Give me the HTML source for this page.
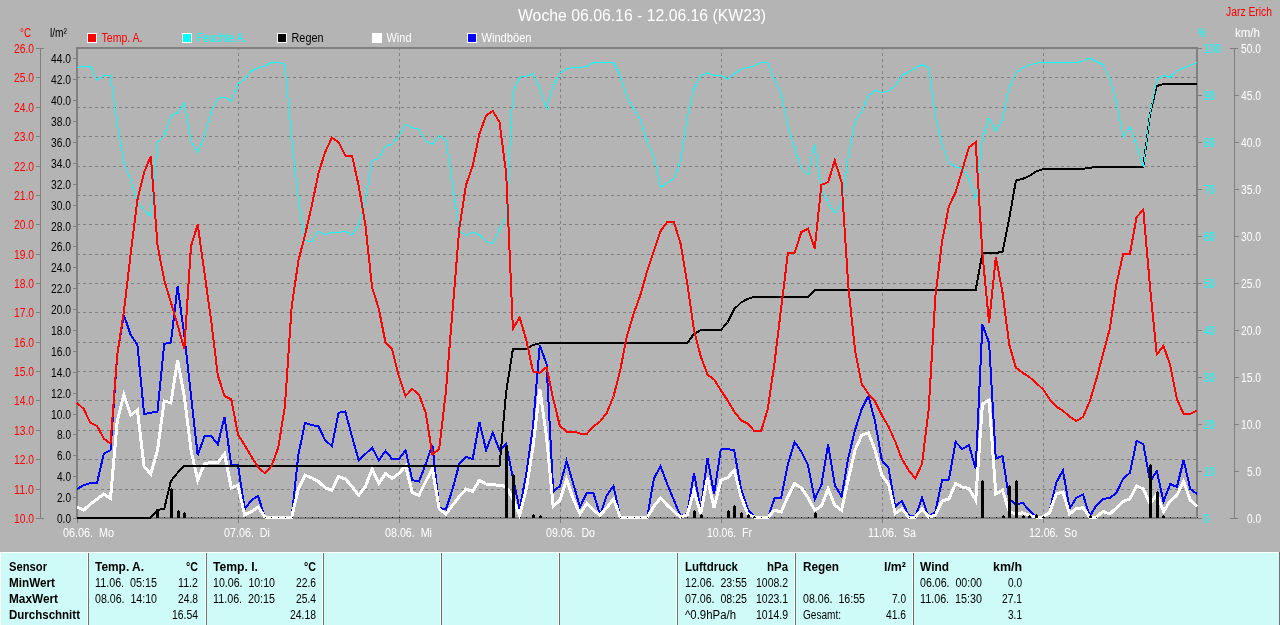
<!DOCTYPE html>
<html lang="de"><head><meta charset="utf-8"><title>Woche 06.06.16 - 12.06.16 (KW23)</title>
<style>html,body{margin:0;padding:0;background:#b4b4b4;overflow:hidden}svg{display:block;will-change:transform}text{font-family:"Liberation Sans",sans-serif;font-size:12px;white-space:pre}.b{font-weight:bold}.r{fill:#ff0000}.c{fill:#00ffff}.w{fill:#ffffff}.k{fill:#000000}.e{text-anchor:end}</style></head><body>
<svg width="1280" height="625" viewBox="0 0 1280 625">
<rect x="0" y="0" width="1280" height="625" fill="#b4b4b4"/>
<g shape-rendering="crispEdges" fill="none">
<path d="M77 77.5H1196M77 107.5H1196M77 136.5H1196M77 166.5H1196M77 195.5H1196M77 224.5H1196M77 254.5H1196M77 283.5H1196M77 312.5H1196M77 342.5H1196M77 371.5H1196M77 400.5H1196M77 430.5H1196M77 459.5H1196M77 489.5H1196M238.5 47V517M399.5 47V517M560.5 47V517M721.5 47V517M882.5 47V517M1043.5 47V517" stroke="#808080" stroke-width="1" stroke-dasharray="3 3"/>
<path d="M76 48H1198M77 47V519M1197 47V519M76 518H1198" stroke="#808080" stroke-width="2"/>
<path d="M40.5 48V519M36 48.5H44M36 77.5H40M36 107.5H40M36 136.5H40M36 166.5H40M36 195.5H40M36 224.5H40M36 254.5H40M36 283.5H40M36 312.5H40M36 342.5H40M36 371.5H40M36 400.5H40M36 430.5H40M36 459.5H40M36 489.5H40M36 518.5H44M73 518.5H76M73 497.5H76M73 476.5H76M73 455.5H76M73 434.5H76M73 414.5H76M73 393.5H76M73 372.5H76M73 351.5H76M73 330.5H76M73 309.5H76M73 288.5H76M73 267.5H76M73 246.5H76M73 226.5H76M73 205.5H76M73 184.5H76M73 163.5H76M73 142.5H76M73 121.5H76M73 100.5H76M73 79.5H76M73 58.5H76M1198 518.5H1202M1198 471.5H1202M1198 424.5H1202M1198 377.5H1202M1198 330.5H1202M1198 283.5H1202M1198 236.5H1202M1198 189.5H1202M1198 142.5H1202M1198 95.5H1202M1198 48.5H1202M1234.5 48V519M1230 518.5H1238M1234 471.5H1239M1234 424.5H1239M1234 377.5H1239M1234 330.5H1239M1234 283.5H1239M1234 236.5H1239M1234 189.5H1239M1234 142.5H1239M1234 95.5H1239M1230 48.5H1238M77.5 519V523M238.5 519V523M399.5 519V523M560.5 519V523M721.5 519V523M882.5 519V523M1043.5 519V523" stroke="#808080" stroke-width="1"/>
</g>
<g shape-rendering="crispEdges">
<polyline points="77.0,489.0 83.7,485.2 90.4,483.0 97.1,482.8 103.8,453.5 110.5,450.2 117.2,355.0 123.9,315.0 130.7,335.0 137.4,344.5 144.1,414.0 150.8,412.8 157.5,411.5 164.2,343.8 170.9,342.5 177.6,286.2 184.3,335.0 191.0,395.2 197.7,455.2 204.4,436.5 211.1,436.0 217.8,444.5 224.5,417.0 231.3,465.2 238.0,465.2 244.7,509.0 251.4,500.2 258.1,496.0 264.8,517.0 271.5,518.0 278.2,518.0 284.9,518.0 291.6,518.0 298.3,455.2 305.0,422.8 311.7,425.2 318.4,426.0 325.1,440.2 331.9,446.0 338.6,412.8 345.3,411.5 352.0,436.5 358.7,460.2 365.4,454.0 372.1,447.8 378.8,460.2 385.5,451.0 392.2,459.0 398.9,459.0 405.6,450.2 412.3,480.2 419.0,481.5 425.7,464.0 432.4,445.2 439.2,507.8 445.9,509.5 452.6,489.0 459.3,464.0 466.0,457.0 472.7,459.0 479.4,422.0 486.1,450.2 492.8,432.8 499.5,450.2 506.2,444.0 512.9,477.8 519.6,509.0 526.3,474.0 533.0,426.5 539.8,345.0 546.5,364.0 553.2,491.5 559.9,486.0 566.6,461.0 573.3,484.0 580.0,507.0 586.7,492.8 593.4,492.8 600.1,515.2 606.8,495.2 613.5,486.0 620.2,517.0 626.9,518.0 633.6,518.0 640.4,518.0 647.1,518.0 653.8,479.0 660.5,466.0 667.2,484.0 673.9,500.2 680.6,516.0 687.3,514.0 694.0,472.8 700.7,510.2 707.4,457.8 714.1,494.0 720.8,449.5 727.5,449.0 734.2,450.2 741.0,489.0 747.7,509.0 754.4,517.0 761.1,518.0 767.8,518.0 774.5,498.5 781.2,497.8 787.9,464.0 794.6,442.0 801.3,451.5 808.0,465.2 814.7,499.0 821.4,485.2 828.1,444.0 834.8,485.2 841.6,496.5 848.3,457.8 855.0,430.2 861.7,409.0 868.4,396.0 875.1,421.5 881.8,460.2 888.5,467.8 895.2,506.5 901.9,501.0 908.6,515.2 915.3,517.0 922.0,497.8 928.7,517.0 935.4,511.5 942.1,480.2 948.9,479.5 955.6,442.0 962.3,449.0 969.0,445.2 975.7,469.0 982.4,324.5 989.1,343.0 995.8,458.5 1002.5,456.0 1009.2,499.0 1015.9,504.5 1022.6,502.8 1029.3,510.2 1036.0,517.0 1042.7,517.0 1049.5,511.5 1056.2,482.8 1062.9,470.2 1069.6,508.5 1076.3,497.8 1083.0,494.5 1089.7,516.5 1096.4,505.2 1103.1,499.0 1109.8,497.8 1116.5,492.8 1123.2,478.5 1129.9,472.8 1136.6,441.0 1143.3,444.0 1150.1,481.5 1156.8,471.0 1163.5,501.5 1170.2,484.0 1176.9,487.0 1183.6,460.2 1190.3,489.0 1197.0,494.0" stroke="#0000ff" stroke-width="2" fill="none" stroke-linejoin="miter"/>
<polyline points="77.0,507.0 83.7,510.2 90.4,504.0 97.1,499.0 103.8,494.0 110.5,498.5 117.2,421.5 123.9,394.5 130.7,415.2 137.4,410.2 144.1,466.5 150.8,474.0 157.5,450.2 164.2,401.0 170.9,402.8 177.6,360.0 184.3,396.5 191.0,450.2 197.7,480.2 204.4,464.0 211.1,462.2 217.8,462.8 224.5,454.0 231.3,487.8 238.0,485.2 244.7,515.2 251.4,511.5 258.1,507.0 264.8,517.0 271.5,517.5 278.2,517.5 284.9,517.5 291.6,517.5 298.3,489.0 305.0,475.2 311.7,477.8 318.4,481.5 325.1,487.8 331.9,490.2 338.6,476.5 345.3,479.0 352.0,486.5 358.7,495.2 365.4,486.5 372.1,469.0 378.8,483.5 385.5,473.5 392.2,478.5 398.9,473.5 405.6,466.0 412.3,492.8 419.0,495.2 425.7,481.5 432.4,469.0 439.2,509.0 445.9,514.0 452.6,505.2 459.3,496.5 466.0,489.0 472.7,491.5 479.4,480.2 486.1,484.0 492.8,484.8 499.5,485.2 506.2,486.5 512.9,499.0 519.6,515.2 526.3,489.0 533.0,446.5 539.8,389.0 546.5,436.5 553.2,506.5 559.9,500.2 566.6,479.5 573.3,499.0 580.0,514.0 586.7,503.5 593.4,510.2 600.1,515.2 606.8,507.8 613.5,499.0 620.2,517.0 626.9,517.5 633.6,517.5 640.4,517.5 647.1,517.5 653.8,506.5 660.5,497.8 667.2,505.2 673.9,511.5 680.6,517.0 687.3,514.8 694.0,490.2 700.7,514.0 707.4,477.8 714.1,507.8 720.8,480.2 727.5,477.8 734.2,470.2 741.0,496.5 747.7,514.0 754.4,517.0 761.1,517.5 767.8,517.5 774.5,510.2 781.2,512.0 787.9,496.5 794.6,483.5 801.3,487.8 808.0,497.8 814.7,510.2 821.4,506.0 828.1,489.0 834.8,505.2 841.6,510.2 848.3,479.0 855.0,450.2 861.7,435.2 868.4,432.8 875.1,450.2 881.8,475.2 888.5,484.0 895.2,513.5 901.9,509.0 908.6,517.0 915.3,517.0 922.0,509.0 928.7,517.0 935.4,515.2 942.1,501.0 948.9,499.0 955.6,483.5 962.3,487.2 969.0,488.5 975.7,500.2 982.4,404.0 989.1,400.2 995.8,494.0 1002.5,490.2 1009.2,511.5 1015.9,514.0 1022.6,512.8 1029.3,515.2 1036.0,517.0 1042.7,517.0 1049.5,512.8 1056.2,494.0 1062.9,492.0 1069.6,514.0 1076.3,508.5 1083.0,507.8 1089.7,517.0 1096.4,517.0 1103.1,511.5 1109.8,514.0 1116.5,507.8 1123.2,501.5 1129.9,499.0 1136.6,486.0 1143.3,489.0 1150.1,504.0 1156.8,494.0 1163.5,511.5 1170.2,501.0 1176.9,495.2 1183.6,481.5 1190.3,500.2 1197.0,506.5" stroke="#ffffff" stroke-width="3" fill="none" stroke-linejoin="miter"/>
<path d="M157 517.5h1M164 517.5h1M171 517.5h1M178 517.5h1M184 517.5h1M191 517.5h1M198 517.5h1M204 517.5h1M211 517.5h1M218 517.5h1M225 517.5h1M231 517.5h1M238 517.5h1M245 517.5h1M251 517.5h1M258 517.5h1M265 517.5h1M271 517.5h1M278 517.5h1M285 517.5h1M292 517.5h1M298 517.5h1M305 517.5h1M312 517.5h1M318 517.5h1M325 517.5h1M332 517.5h1M339 517.5h1M345 517.5h1M352 517.5h1M359 517.5h1M365 517.5h1M372 517.5h1M379 517.5h1M386 517.5h1M392 517.5h1M399 517.5h1M406 517.5h1M412 517.5h1M419 517.5h1M426 517.5h1M432 517.5h1M439 517.5h1M446 517.5h1M453 517.5h1M459 517.5h1M466 517.5h1M473 517.5h1M479 517.5h1M486 517.5h1M493 517.5h1M500 517.5h1M506 517.5h1M513 517.5h1M520 517.5h1M526 517.5h1M533 517.5h1M540 517.5h1M546 517.5h1M553 517.5h1M560 517.5h1M567 517.5h1M573 517.5h1M580 517.5h1M587 517.5h1M593 517.5h1M600 517.5h1M607 517.5h1M614 517.5h1M620 517.5h1M627 517.5h1M634 517.5h1M640 517.5h1M647 517.5h1M654 517.5h1M660 517.5h1M667 517.5h1M674 517.5h1M681 517.5h1M687 517.5h1M694 517.5h1M701 517.5h1M707 517.5h1M714 517.5h1M721 517.5h1M728 517.5h1M734 517.5h1M741 517.5h1M748 517.5h1M754 517.5h1M761 517.5h1M768 517.5h1M774 517.5h1M781 517.5h1M788 517.5h1M795 517.5h1M801 517.5h1M808 517.5h1M815 517.5h1M821 517.5h1M828 517.5h1M835 517.5h1M842 517.5h1M848 517.5h1M855 517.5h1M862 517.5h1M868 517.5h1M875 517.5h1M882 517.5h1M888 517.5h1M895 517.5h1M902 517.5h1M909 517.5h1M915 517.5h1M922 517.5h1M929 517.5h1M935 517.5h1M942 517.5h1M949 517.5h1M956 517.5h1M962 517.5h1M969 517.5h1M976 517.5h1M982 517.5h1M989 517.5h1M996 517.5h1M1003 517.5h1M1009 517.5h1M1016 517.5h1M1023 517.5h1M1029 517.5h1M1036 517.5h1M1043 517.5h1M1049 517.5h1M1056 517.5h1M1063 517.5h1M1070 517.5h1M1076 517.5h1M1083 517.5h1M1090 517.5h1M1096 517.5h1M1103 517.5h1M1110 517.5h1M1117 517.5h1M1123 517.5h1M1130 517.5h1M1137 517.5h1M1143 517.5h1M1150 517.5h1M1157 517.5h1M1163 517.5h1M1170 517.5h1M1177 517.5h1M1184 517.5h1M1190 517.5h1M1197 517.5h1" stroke="#000000" stroke-width="1" fill="none"/>
<g fill="#000000"><rect x="156" y="511" width="3" height="7"/><rect x="157" y="510" width="1" height="1"/><rect x="170" y="489" width="3" height="29"/><rect x="171" y="488" width="1" height="1"/><rect x="177" y="511" width="3" height="7"/><rect x="178" y="510" width="1" height="1"/><rect x="183" y="513" width="3" height="5"/><rect x="184" y="512" width="1" height="1"/><rect x="505" y="446" width="3" height="72"/><rect x="506" y="445" width="1" height="1"/><rect x="512" y="475" width="3" height="43"/><rect x="513" y="474" width="1" height="1"/><rect x="532" y="515" width="3" height="3"/><rect x="533" y="514" width="1" height="1"/><rect x="539" y="516" width="3" height="2"/><rect x="540" y="515" width="1" height="1"/><rect x="693" y="511" width="3" height="7"/><rect x="694" y="510" width="1" height="1"/><rect x="700" y="515" width="3" height="3"/><rect x="701" y="514" width="1" height="1"/><rect x="727" y="511" width="3" height="7"/><rect x="728" y="510" width="1" height="1"/><rect x="733" y="506" width="3" height="12"/><rect x="734" y="505" width="1" height="1"/><rect x="740" y="513" width="3" height="5"/><rect x="741" y="512" width="1" height="1"/><rect x="747" y="515" width="3" height="3"/><rect x="748" y="514" width="1" height="1"/><rect x="753" y="517" width="3" height="1"/><rect x="754" y="516" width="1" height="1"/><rect x="814" y="513" width="3" height="5"/><rect x="815" y="512" width="1" height="1"/><rect x="981" y="481" width="3" height="37"/><rect x="982" y="480" width="1" height="1"/><rect x="1002" y="516" width="3" height="2"/><rect x="1003" y="515" width="1" height="1"/><rect x="1008" y="486" width="3" height="32"/><rect x="1009" y="485" width="1" height="1"/><rect x="1015" y="481" width="3" height="37"/><rect x="1016" y="480" width="1" height="1"/><rect x="1022" y="516" width="3" height="2"/><rect x="1023" y="515" width="1" height="1"/><rect x="1028" y="516" width="3" height="2"/><rect x="1029" y="515" width="1" height="1"/><rect x="1035" y="515" width="3" height="3"/><rect x="1036" y="514" width="1" height="1"/><rect x="1042" y="517" width="3" height="1"/><rect x="1043" y="516" width="1" height="1"/><rect x="1089" y="516" width="3" height="2"/><rect x="1090" y="515" width="1" height="1"/><rect x="1149" y="465" width="3" height="53"/><rect x="1150" y="464" width="1" height="1"/><rect x="1156" y="492" width="3" height="26"/><rect x="1157" y="491" width="1" height="1"/><rect x="1162" y="516" width="3" height="2"/><rect x="1163" y="515" width="1" height="1"/></g>
<polyline points="77.0,517.5 83.7,517.5 90.4,517.5 97.1,517.5 103.8,517.5 110.5,517.5 117.2,517.5 123.9,517.5 130.7,517.5 137.4,517.5 144.1,517.5 150.8,517.5 157.5,509.8 164.2,509.0 170.9,481.0 177.6,472.8 184.3,466.0 191.0,466.0 197.7,466.0 204.4,466.0 211.1,466.0 217.8,466.0 224.5,466.0 231.3,466.0 238.0,466.0 244.7,466.0 251.4,466.0 258.1,466.0 264.8,466.0 271.5,466.0 278.2,466.0 284.9,466.0 291.6,466.0 298.3,466.0 305.0,466.0 311.7,466.0 318.4,466.0 325.1,466.0 331.9,466.0 338.6,466.0 345.3,466.0 352.0,466.0 358.7,466.0 365.4,466.0 372.1,466.0 378.8,466.0 385.5,466.0 392.2,466.0 398.9,466.0 405.6,466.0 412.3,466.0 419.0,466.0 425.7,466.0 432.4,466.0 439.2,466.0 445.9,466.0 452.6,466.0 459.3,466.0 466.0,466.0 472.7,466.0 479.4,466.0 486.1,466.0 492.8,466.0 499.5,466.0 506.2,391.5 512.9,349.2 519.6,349.2 526.3,349.2 533.0,345.0 539.8,343.2 546.5,343.0 553.2,343.0 559.9,343.0 566.6,343.0 573.3,343.0 580.0,343.0 586.7,343.0 593.4,343.0 600.1,343.0 606.8,343.0 613.5,343.0 620.2,343.0 626.9,343.0 633.6,343.0 640.4,343.0 647.1,343.0 653.8,343.0 660.5,343.0 667.2,343.0 673.9,343.0 680.6,343.0 687.3,343.0 694.0,333.8 700.7,330.2 707.4,330.0 714.1,330.0 720.8,330.0 727.5,322.5 734.2,309.2 741.0,302.5 747.7,298.8 754.4,296.8 761.1,296.8 767.8,296.8 774.5,296.8 781.2,296.8 787.9,296.8 794.6,296.8 801.3,296.8 808.0,296.8 814.7,290.0 821.4,290.0 828.1,290.0 834.8,290.0 841.6,290.0 848.3,290.0 855.0,290.0 861.7,290.0 868.4,290.0 875.1,290.0 881.8,290.0 888.5,290.0 895.2,290.0 901.9,290.0 908.6,290.0 915.3,290.0 922.0,290.0 928.7,290.0 935.4,290.0 942.1,290.0 948.9,290.0 955.6,290.0 962.3,290.0 969.0,290.0 975.7,290.0 982.4,253.0 989.1,253.0 995.8,253.0 1002.5,251.8 1009.2,219.0 1015.9,180.5 1022.6,179.0 1029.3,176.0 1036.0,171.5 1042.7,169.2 1049.5,168.8 1056.2,168.8 1062.9,168.8 1069.6,168.8 1076.3,168.8 1083.0,168.8 1089.7,167.8 1096.4,167.0 1103.1,167.0 1109.8,167.0 1116.5,167.0 1123.2,167.0 1129.9,167.0 1136.6,167.0 1143.3,167.0 1150.1,113.5 1156.8,86.0 1163.5,84.0 1170.2,84.0 1176.9,84.0 1183.6,84.0 1190.3,84.0 1197.0,84.0" stroke="#000000" stroke-width="2" fill="none" stroke-linejoin="miter"/>
<polyline points="77.0,67.8 83.7,66.2 90.4,66.2 97.1,80.2 103.8,75.5 110.5,75.5 117.2,123.5 123.9,162.2 130.7,179.8 137.4,202.0 144.1,210.0 150.8,216.2 157.5,142.2 164.2,136.0 170.9,116.0 177.6,113.0 184.3,103.0 191.0,141.0 197.7,152.2 204.4,136.5 211.1,112.2 217.8,98.5 224.5,97.2 231.3,101.0 238.0,84.0 244.7,79.2 251.4,71.0 258.1,67.8 264.8,66.0 271.5,62.5 278.2,62.5 284.9,64.2 291.6,137.2 298.3,198.5 305.0,240.0 311.7,242.0 318.4,231.2 325.1,234.5 331.9,232.5 338.6,232.5 345.3,231.2 352.0,235.0 358.7,225.0 365.4,200.0 372.1,160.5 378.8,158.5 385.5,146.5 392.2,144.0 398.9,136.0 405.6,124.2 412.3,127.8 419.0,129.2 425.7,141.0 432.4,144.2 439.2,135.5 445.9,139.8 452.6,184.8 459.3,231.2 466.0,235.5 472.7,232.0 479.4,235.0 486.1,241.2 492.8,243.8 499.5,229.5 506.2,217.5 512.9,92.2 519.6,77.2 526.3,76.5 533.0,73.5 539.8,88.5 546.5,108.5 553.2,86.0 559.9,73.0 566.6,69.0 573.3,67.5 580.0,67.5 586.7,66.5 593.4,62.5 600.1,62.5 606.8,62.5 613.5,62.5 620.2,76.0 626.9,97.2 633.6,108.5 640.4,119.8 647.1,142.2 653.8,156.0 660.5,187.2 667.2,183.0 673.9,178.5 680.6,161.5 687.3,117.2 694.0,88.5 700.7,75.5 707.4,73.0 714.1,75.5 720.8,75.5 727.5,79.0 734.2,74.0 741.0,69.2 747.7,67.5 754.4,66.0 761.1,62.5 767.8,62.5 774.5,79.8 781.2,93.5 787.9,126.0 794.6,148.5 801.3,168.0 808.0,175.0 814.7,144.0 821.4,189.8 828.1,202.5 834.8,213.0 841.6,204.5 848.3,156.0 855.0,121.0 861.7,111.5 868.4,95.5 875.1,90.5 881.8,92.5 888.5,91.0 895.2,86.0 901.9,75.5 908.6,71.8 915.3,68.0 922.0,64.8 928.7,68.0 935.4,116.0 942.1,144.8 948.9,163.0 955.6,166.8 962.3,168.5 969.0,178.5 975.7,199.8 982.4,138.5 989.1,118.0 995.8,131.0 1002.5,119.8 1009.2,87.2 1015.9,73.0 1022.6,68.0 1029.3,64.8 1036.0,63.2 1042.7,62.5 1049.5,62.5 1056.2,62.5 1062.9,62.5 1069.6,62.5 1076.3,62.5 1083.0,61.0 1089.7,58.0 1096.4,61.5 1103.1,64.8 1109.8,78.5 1116.5,102.2 1123.2,137.2 1129.9,126.5 1136.6,144.8 1143.3,167.2 1150.1,113.5 1156.8,79.8 1163.5,75.5 1170.2,77.2 1176.9,71.0 1183.6,68.0 1190.3,65.5 1197.0,62.5" stroke="#00ffff" stroke-width="1" fill="none" stroke-linejoin="miter"/>
<polyline points="77.0,402.8 83.7,409.0 90.4,422.8 97.1,426.0 103.8,438.5 110.5,443.5 117.2,355.0 123.9,311.2 130.7,253.8 137.4,200.0 144.1,172.2 150.8,156.0 157.5,245.0 164.2,280.0 170.9,302.5 177.6,325.0 184.3,348.8 191.0,246.2 197.7,224.5 204.4,272.5 211.1,320.0 217.8,375.2 224.5,396.0 231.3,399.5 238.0,434.5 244.7,445.2 251.4,456.5 258.1,467.0 264.8,473.2 271.5,466.0 278.2,447.8 284.9,406.5 291.6,307.5 298.3,261.2 305.0,235.0 311.7,206.2 318.4,173.5 325.1,152.2 331.9,137.8 338.6,142.2 345.3,155.5 352.0,155.5 358.7,186.0 365.4,225.0 372.1,287.5 378.8,308.8 385.5,342.5 392.2,349.5 398.9,376.5 405.6,396.0 412.3,389.0 419.0,394.5 425.7,412.8 432.4,454.5 439.2,449.0 445.9,391.5 452.6,310.0 459.3,228.8 466.0,184.8 472.7,166.0 479.4,134.0 486.1,115.5 492.8,111.0 499.5,122.2 506.2,173.5 512.9,328.8 519.6,317.5 526.3,340.0 533.0,371.5 539.8,372.8 546.5,367.0 553.2,399.0 559.9,426.0 566.6,431.5 573.3,431.5 580.0,433.5 586.7,434.0 593.4,426.5 600.1,421.5 606.8,412.8 613.5,396.5 620.2,370.2 626.9,336.2 633.6,313.8 640.4,295.0 647.1,271.2 653.8,251.2 660.5,231.2 667.2,222.0 673.9,222.0 680.6,243.8 687.3,283.8 694.0,330.0 700.7,356.2 707.4,374.5 714.1,379.5 720.8,390.2 727.5,400.2 734.2,411.5 741.0,420.2 747.7,423.5 754.4,431.0 761.1,431.0 767.8,409.0 774.5,362.8 781.2,307.5 787.9,253.0 794.6,253.0 801.3,232.0 808.0,228.8 814.7,248.8 821.4,184.8 828.1,182.2 834.8,160.5 841.6,182.2 848.3,286.2 855.0,350.0 861.7,384.0 868.4,394.0 875.1,401.5 881.8,415.2 888.5,426.5 895.2,441.5 901.9,459.0 908.6,470.2 915.3,478.5 922.0,464.0 928.7,409.0 935.4,296.2 942.1,241.2 948.9,206.2 955.6,192.2 962.3,169.8 969.0,147.2 975.7,142.2 982.4,253.8 989.1,323.0 995.8,257.0 1002.5,292.5 1009.2,344.5 1015.9,367.8 1022.6,372.8 1029.3,377.0 1036.0,382.8 1042.7,389.0 1049.5,399.0 1056.2,406.5 1062.9,410.8 1069.6,416.5 1076.3,421.0 1083.0,417.0 1089.7,401.5 1096.4,379.0 1103.1,353.8 1109.8,328.8 1116.5,283.8 1123.2,253.8 1129.9,253.8 1136.6,217.0 1143.3,210.0 1150.1,287.5 1156.8,354.5 1163.5,345.8 1170.2,365.2 1176.9,399.0 1183.6,414.0 1190.3,414.0 1197.0,410.5" stroke="#ff0000" stroke-width="2" fill="none" stroke-linejoin="miter"/>
</g>
<text x="34" y="53" class="r e" textLength="20" lengthAdjust="spacingAndGlyphs">26.0</text>
<text x="34" y="82" class="r e" textLength="20" lengthAdjust="spacingAndGlyphs">25.0</text>
<text x="34" y="112" class="r e" textLength="20" lengthAdjust="spacingAndGlyphs">24.0</text>
<text x="34" y="141" class="r e" textLength="20" lengthAdjust="spacingAndGlyphs">23.0</text>
<text x="34" y="171" class="r e" textLength="20" lengthAdjust="spacingAndGlyphs">22.0</text>
<text x="34" y="200" class="r e" textLength="20" lengthAdjust="spacingAndGlyphs">21.0</text>
<text x="34" y="229" class="r e" textLength="20" lengthAdjust="spacingAndGlyphs">20.0</text>
<text x="34" y="259" class="r e" textLength="20" lengthAdjust="spacingAndGlyphs">19.0</text>
<text x="34" y="288" class="r e" textLength="20" lengthAdjust="spacingAndGlyphs">18.0</text>
<text x="34" y="317" class="r e" textLength="20" lengthAdjust="spacingAndGlyphs">17.0</text>
<text x="34" y="347" class="r e" textLength="20" lengthAdjust="spacingAndGlyphs">16.0</text>
<text x="34" y="376" class="r e" textLength="20" lengthAdjust="spacingAndGlyphs">15.0</text>
<text x="34" y="405" class="r e" textLength="20" lengthAdjust="spacingAndGlyphs">14.0</text>
<text x="34" y="435" class="r e" textLength="20" lengthAdjust="spacingAndGlyphs">13.0</text>
<text x="34" y="464" class="r e" textLength="20" lengthAdjust="spacingAndGlyphs">12.0</text>
<text x="34" y="494" class="r e" textLength="20" lengthAdjust="spacingAndGlyphs">11.0</text>
<text x="34" y="523" class="r e" textLength="20" lengthAdjust="spacingAndGlyphs">10.0</text>
<text x="71" y="523" class="k e" textLength="14" lengthAdjust="spacingAndGlyphs">0.0</text>
<text x="71" y="502" class="k e" textLength="14" lengthAdjust="spacingAndGlyphs">2.0</text>
<text x="71" y="481" class="k e" textLength="14" lengthAdjust="spacingAndGlyphs">4.0</text>
<text x="71" y="460" class="k e" textLength="14" lengthAdjust="spacingAndGlyphs">6.0</text>
<text x="71" y="439" class="k e" textLength="14" lengthAdjust="spacingAndGlyphs">8.0</text>
<text x="71" y="419" class="k e" textLength="20" lengthAdjust="spacingAndGlyphs">10.0</text>
<text x="71" y="398" class="k e" textLength="20" lengthAdjust="spacingAndGlyphs">12.0</text>
<text x="71" y="377" class="k e" textLength="20" lengthAdjust="spacingAndGlyphs">14.0</text>
<text x="71" y="356" class="k e" textLength="20" lengthAdjust="spacingAndGlyphs">16.0</text>
<text x="71" y="335" class="k e" textLength="20" lengthAdjust="spacingAndGlyphs">18.0</text>
<text x="71" y="314" class="k e" textLength="20" lengthAdjust="spacingAndGlyphs">20.0</text>
<text x="71" y="293" class="k e" textLength="20" lengthAdjust="spacingAndGlyphs">22.0</text>
<text x="71" y="272" class="k e" textLength="20" lengthAdjust="spacingAndGlyphs">24.0</text>
<text x="71" y="251" class="k e" textLength="20" lengthAdjust="spacingAndGlyphs">26.0</text>
<text x="71" y="231" class="k e" textLength="20" lengthAdjust="spacingAndGlyphs">28.0</text>
<text x="71" y="210" class="k e" textLength="20" lengthAdjust="spacingAndGlyphs">30.0</text>
<text x="71" y="189" class="k e" textLength="20" lengthAdjust="spacingAndGlyphs">32.0</text>
<text x="71" y="168" class="k e" textLength="20" lengthAdjust="spacingAndGlyphs">34.0</text>
<text x="71" y="147" class="k e" textLength="20" lengthAdjust="spacingAndGlyphs">36.0</text>
<text x="71" y="126" class="k e" textLength="20" lengthAdjust="spacingAndGlyphs">38.0</text>
<text x="71" y="105" class="k e" textLength="20" lengthAdjust="spacingAndGlyphs">40.0</text>
<text x="71" y="84" class="k e" textLength="20" lengthAdjust="spacingAndGlyphs">42.0</text>
<text x="71" y="63" class="k e" textLength="20" lengthAdjust="spacingAndGlyphs">44.0</text>
<text x="1204" y="523" class="c" textLength="5" lengthAdjust="spacingAndGlyphs">0</text>
<text x="1261" y="523" class="w e" textLength="14" lengthAdjust="spacingAndGlyphs">0.0</text>
<text x="1204" y="476" class="c" textLength="11" lengthAdjust="spacingAndGlyphs">10</text>
<text x="1261" y="476" class="w e" textLength="14" lengthAdjust="spacingAndGlyphs">5.0</text>
<text x="1204" y="429" class="c" textLength="11" lengthAdjust="spacingAndGlyphs">20</text>
<text x="1261" y="429" class="w e" textLength="20" lengthAdjust="spacingAndGlyphs">10.0</text>
<text x="1204" y="382" class="c" textLength="11" lengthAdjust="spacingAndGlyphs">30</text>
<text x="1261" y="382" class="w e" textLength="20" lengthAdjust="spacingAndGlyphs">15.0</text>
<text x="1204" y="335" class="c" textLength="11" lengthAdjust="spacingAndGlyphs">40</text>
<text x="1261" y="335" class="w e" textLength="20" lengthAdjust="spacingAndGlyphs">20.0</text>
<text x="1204" y="288" class="c" textLength="11" lengthAdjust="spacingAndGlyphs">50</text>
<text x="1261" y="288" class="w e" textLength="20" lengthAdjust="spacingAndGlyphs">25.0</text>
<text x="1204" y="241" class="c" textLength="11" lengthAdjust="spacingAndGlyphs">60</text>
<text x="1261" y="241" class="w e" textLength="20" lengthAdjust="spacingAndGlyphs">30.0</text>
<text x="1204" y="194" class="c" textLength="11" lengthAdjust="spacingAndGlyphs">70</text>
<text x="1261" y="194" class="w e" textLength="20" lengthAdjust="spacingAndGlyphs">35.0</text>
<text x="1204" y="147" class="c" textLength="11" lengthAdjust="spacingAndGlyphs">80</text>
<text x="1261" y="147" class="w e" textLength="20" lengthAdjust="spacingAndGlyphs">40.0</text>
<text x="1204" y="100" class="c" textLength="11" lengthAdjust="spacingAndGlyphs">90</text>
<text x="1261" y="100" class="w e" textLength="20" lengthAdjust="spacingAndGlyphs">45.0</text>
<text x="1204" y="53" class="c" textLength="17" lengthAdjust="spacingAndGlyphs">100</text>
<text x="1261" y="53" class="w e" textLength="20" lengthAdjust="spacingAndGlyphs">50.0</text>
<text x="20" y="37" class="r" textLength="11" lengthAdjust="spacingAndGlyphs">°C</text>
<text x="50" y="37" class="k" textLength="17" lengthAdjust="spacingAndGlyphs">l/m²</text>
<text x="1198" y="37" class="c" textLength="8" lengthAdjust="spacingAndGlyphs">%</text>
<text x="1235" y="37" class="w" textLength="25" lengthAdjust="spacingAndGlyphs">km/h</text>
<text x="1226" y="16" class="r" textLength="46" lengthAdjust="spacingAndGlyphs">Jarz Erich</text>
<text x="518" y="21" class="w" textLength="248" lengthAdjust="spacingAndGlyphs" style="font-size:16px">Woche 06.06.16 - 12.06.16 (KW23)</text>
<rect x="87.5" y="33.5" width="9" height="9" fill="#ff0000" stroke="#ffffff" shape-rendering="crispEdges"/>
<text x="101.5" y="42" class="r" textLength="41" lengthAdjust="spacingAndGlyphs">Temp. A.</text>
<rect x="182.5" y="33.5" width="9" height="9" fill="#00ffff" stroke="#ffffff" shape-rendering="crispEdges"/>
<text x="196.5" y="42" class="c" textLength="50" lengthAdjust="spacingAndGlyphs">Feuchte A.</text>
<rect x="277.5" y="33.5" width="9" height="9" fill="#000000" stroke="#ffffff" shape-rendering="crispEdges"/>
<text x="291.5" y="42" class="k" textLength="32" lengthAdjust="spacingAndGlyphs">Regen</text>
<rect x="372.5" y="33.5" width="9" height="9" fill="#ffffff" stroke="#ffffff" shape-rendering="crispEdges"/>
<text x="386.5" y="42" class="w" textLength="25" lengthAdjust="spacingAndGlyphs">Wind</text>
<rect x="467.5" y="33.5" width="9" height="9" fill="#0000ff" stroke="#ffffff" shape-rendering="crispEdges"/>
<text x="481.5" y="42" class="w" textLength="50" lengthAdjust="spacingAndGlyphs">Windböen</text>
<text x="63" y="537" class="w" textLength="51" lengthAdjust="spacingAndGlyphs">06.06.  Mo</text>
<text x="224" y="537" class="w" textLength="46" lengthAdjust="spacingAndGlyphs">07.06.  Di</text>
<text x="385" y="537" class="w" textLength="47" lengthAdjust="spacingAndGlyphs">08.06.  Mi</text>
<text x="546" y="537" class="w" textLength="49" lengthAdjust="spacingAndGlyphs">09.06.  Do</text>
<text x="707" y="537" class="w" textLength="45" lengthAdjust="spacingAndGlyphs">10.06.  Fr</text>
<text x="868" y="537" class="w" textLength="48" lengthAdjust="spacingAndGlyphs">11.06.  Sa</text>
<text x="1029" y="537" class="w" textLength="48" lengthAdjust="spacingAndGlyphs">12.06.  So</text>
<g shape-rendering="crispEdges">
<rect x="0" y="552" width="1280" height="73" fill="#ffffff"/>
<rect x="1" y="553" width="1278" height="72" fill="#cefaf7"/>
<rect x="1279" y="552" width="1" height="73" fill="#707070"/>
<rect x="87" y="553" width="1" height="72" fill="#ffffff"/><rect x="88" y="553" width="1" height="72" fill="#707070"/>
<rect x="205" y="553" width="1" height="72" fill="#ffffff"/><rect x="206" y="553" width="1" height="72" fill="#707070"/>
<rect x="322" y="553" width="1" height="72" fill="#ffffff"/><rect x="323" y="553" width="1" height="72" fill="#707070"/>
<rect x="440" y="553" width="1" height="72" fill="#ffffff"/><rect x="441" y="553" width="1" height="72" fill="#707070"/>
<rect x="558" y="553" width="1" height="72" fill="#ffffff"/><rect x="559" y="553" width="1" height="72" fill="#707070"/>
<rect x="676" y="553" width="1" height="72" fill="#ffffff"/><rect x="677" y="553" width="1" height="72" fill="#707070"/>
<rect x="794" y="553" width="1" height="72" fill="#ffffff"/><rect x="795" y="553" width="1" height="72" fill="#707070"/>
<rect x="912" y="553" width="1" height="72" fill="#ffffff"/><rect x="913" y="553" width="1" height="72" fill="#707070"/>
</g>
<text x="9" y="571" class="k b" textLength="38" lengthAdjust="spacingAndGlyphs">Sensor</text>
<text x="9" y="587" class="k b" textLength="46" lengthAdjust="spacingAndGlyphs">MinWert</text>
<text x="9" y="603" class="k b" textLength="49" lengthAdjust="spacingAndGlyphs">MaxWert</text>
<text x="9" y="619" class="k b" textLength="71" lengthAdjust="spacingAndGlyphs">Durchschnitt</text>
<text x="95" y="571" class="k b" textLength="49" lengthAdjust="spacingAndGlyphs">Temp. A.</text>
<text x="198" y="571" class="k b e" textLength="12" lengthAdjust="spacingAndGlyphs">°C</text>
<text x="95" y="587" class="k" textLength="62" lengthAdjust="spacingAndGlyphs">11.06.  05:15</text>
<text x="198" y="587" class="k e" textLength="20" lengthAdjust="spacingAndGlyphs">11.2</text>
<text x="95" y="603" class="k" textLength="62" lengthAdjust="spacingAndGlyphs">08.06.  14:10</text>
<text x="198" y="603" class="k e" textLength="20" lengthAdjust="spacingAndGlyphs">24.8</text>
<text x="198" y="619" class="k e" textLength="26" lengthAdjust="spacingAndGlyphs">16.54</text>
<text x="213" y="571" class="k b" textLength="45" lengthAdjust="spacingAndGlyphs">Temp. I.</text>
<text x="316" y="571" class="k b e" textLength="12" lengthAdjust="spacingAndGlyphs">°C</text>
<text x="213" y="587" class="k" textLength="62" lengthAdjust="spacingAndGlyphs">10.06.  10:10</text>
<text x="316" y="587" class="k e" textLength="20" lengthAdjust="spacingAndGlyphs">22.6</text>
<text x="213" y="603" class="k" textLength="62" lengthAdjust="spacingAndGlyphs">11.06.  20:15</text>
<text x="316" y="603" class="k e" textLength="20" lengthAdjust="spacingAndGlyphs">25.4</text>
<text x="316" y="619" class="k e" textLength="26" lengthAdjust="spacingAndGlyphs">24.18</text>
<text x="685" y="571" class="k b" textLength="53" lengthAdjust="spacingAndGlyphs">Luftdruck</text>
<text x="788" y="571" class="k b e" textLength="21" lengthAdjust="spacingAndGlyphs">hPa</text>
<text x="685" y="587" class="k" textLength="62" lengthAdjust="spacingAndGlyphs">12.06.  23:55</text>
<text x="788" y="587" class="k e" textLength="32" lengthAdjust="spacingAndGlyphs">1008.2</text>
<text x="685" y="603" class="k" textLength="62" lengthAdjust="spacingAndGlyphs">07.06.  08:25</text>
<text x="788" y="603" class="k e" textLength="32" lengthAdjust="spacingAndGlyphs">1023.1</text>
<text x="685" y="619" class="k" textLength="51" lengthAdjust="spacingAndGlyphs">^0.9hPa/h</text>
<text x="788" y="619" class="k e" textLength="32" lengthAdjust="spacingAndGlyphs">1014.9</text>
<text x="803" y="571" class="k b" textLength="36" lengthAdjust="spacingAndGlyphs">Regen</text>
<text x="906" y="571" class="k b e" textLength="22" lengthAdjust="spacingAndGlyphs">l/m²</text>
<text x="803" y="603" class="k" textLength="62" lengthAdjust="spacingAndGlyphs">08.06.  16:55</text>
<text x="906" y="603" class="k e" textLength="14" lengthAdjust="spacingAndGlyphs">7.0</text>
<text x="803" y="619" class="k" textLength="38" lengthAdjust="spacingAndGlyphs">Gesamt:</text>
<text x="906" y="619" class="k e" textLength="20" lengthAdjust="spacingAndGlyphs">41.6</text>
<text x="920" y="571" class="k b" textLength="29" lengthAdjust="spacingAndGlyphs">Wind</text>
<text x="1022" y="571" class="k b e" textLength="29" lengthAdjust="spacingAndGlyphs">km/h</text>
<text x="920" y="587" class="k" textLength="62" lengthAdjust="spacingAndGlyphs">06.06.  00:00</text>
<text x="1022" y="587" class="k e" textLength="14" lengthAdjust="spacingAndGlyphs">0.0</text>
<text x="920" y="603" class="k" textLength="62" lengthAdjust="spacingAndGlyphs">11.06.  15:30</text>
<text x="1022" y="603" class="k e" textLength="20" lengthAdjust="spacingAndGlyphs">27.1</text>
<text x="1022" y="619" class="k e" textLength="14" lengthAdjust="spacingAndGlyphs">3.1</text>
</svg></body></html>
